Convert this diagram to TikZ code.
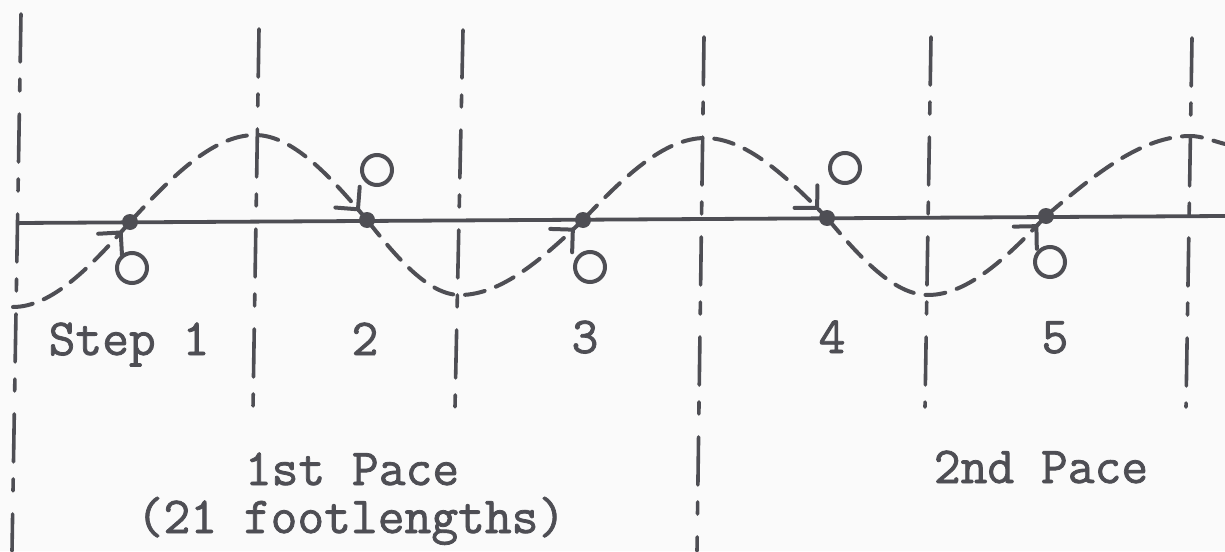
\documentclass[tikz,border=0pt]{standalone}
\usepackage{fontspec}
\usetikzlibrary{decorations.markings}
\newfontfamily\typew[FakeBold=1.5]{Latin Modern Mono}
\definecolor{ink}{RGB}{78,78,84}
\definecolor{paper}{RGB}{250,250,250}
\begin{document}
\begin{tikzpicture}[x=1pt,y=-1pt,
  inkline/.style={draw=ink, line width=3.8pt, line cap=round},
  guide/.style={inkline, line width=3.6pt, dash pattern=on 48pt off 17pt on 12pt off 23pt},
  wavebase/.style={inkline, line width=4pt, dash pattern=on 20pt off 12pt},
  wave/.style={wavebase, postaction={decorate},
    decoration={markings, mark=at position -14pt with {\draw[solid, draw=ink, line width=4pt, line cap=round, line join=round] (-16pt,16pt) -- (0pt,0pt) -- (-16pt,-16pt);}}},
  stepdot/.style={circle, fill=ink, inner sep=0pt, minimum size=16pt},
  footmark/.style={circle, draw=ink, line width=4pt, inner sep=0pt, minimum size=30pt},
  txt/.style={text=ink, font=\typew\fontsize{52}{52}\selectfont, anchor=base, inner sep=0pt}
]
\useasboundingbox (0,0) rectangle (1225,551);
\fill[paper] (0,0) rectangle (1225,551);

% vertical guide lines
\coordinate (At) at (21,14);   \coordinate (Ab) at (12,551);
\coordinate (Bt) at (259,29);  \coordinate (Bb) at (253,408);
\coordinate (Ct) at (463,30);  \coordinate (Cb) at (455,407);
\coordinate (Dt) at (704,37);  \coordinate (Db) at (697,551);
\coordinate (Et) at (931,37);  \coordinate (Eb) at (925,407);
\coordinate (Ft) at (1192,38); \coordinate (Fb) at (1186,407);
\draw[guide] (At) -- (Ab);
\draw[guide] (Bt) -- (Bb);
\draw[guide] (Ct) -- (Cb);
\draw[guide] (Dt) -- (Db);
\draw[guide] (Et) -- (Eb);
\draw[guide] (Ft) -- (Fb);

% baseline
\coordinate (h0) at (17,223);
\coordinate (h1) at (1225,216);
\draw[inkline, line cap=butt] (h0) -- (h1);

% footfall dots
\node[stepdot] (d1) at (130,222) {};
\node[stepdot] (d2) at (367,220) {};
\node[stepdot] (d3) at (583,220) {};
\node[stepdot] (d4) at (827,218) {};
\node[stepdot] (d5) at (1046,216) {};

% wave turning points
\coordinate (s0) at (13,307);
\coordinate (p1) at (255,135);
\coordinate (t1) at (460,295);
\coordinate (p2) at (705,138);
\coordinate (t2) at (928,295);
\coordinate (p3) at (1190,136);
\coordinate (e)  at (1225,144);

\draw[wave] (s0) .. controls +(39,0) and +(-39,44.5) .. (d1.center);
\draw[wave] (d1.center) .. controls +(41.7,-45.5) and +(-41.7,0) .. (p1)
                        .. controls +(37.3,0) and +(-37.3,-44.5) .. (d2.center);
\draw[wave] (d2.center) .. controls +(31,39.3) and +(-31,0) .. (t1)
                        .. controls +(41,0) and +(-41,39.3) .. (d3.center);
\draw[wave] (d3.center) .. controls +(40.7,-42.9) and +(-40.7,0) .. (p2)
                        .. controls +(40.7,0) and +(-40.7,-41.9) .. (d4.center);
\draw[wave] (d4.center) .. controls +(33.7,40.3) and +(-33.7,0) .. (t2)
                        .. controls +(39.3,0) and +(-39.3,41.9) .. (d5.center);
\draw[wavebase] (d5.center) .. controls +(48,-41.4) and +(-48,0) .. (p3)
                        .. controls +(12,0) and +(-12,-3) .. (e);

% foot circles
\node[footmark] (c1) at (132,268) {};
\node[footmark] (c2) at (377,170) {};
\node[footmark] (c3) at (590,267) {};
\node[footmark] (c4) at (845,168) {};
\node[footmark] (c5) at (1050,262) {};

% labels
\node[txt] (l1) at (129,355) {Step 1};
\node[txt] (l2) at (365,355) {2};
\node[txt] (l3) at (585,353) {3};
\node[txt] (l4) at (832,353) {4};
\node[txt] (l5) at (1055,353) {5};
\node[txt] (pace1) at (352,485) {1st Pace};
\node[txt] (len1) at (351,533) {(21 footlengths)};
\node[txt] (pace2) at (1041,483) {2nd Pace};
\end{tikzpicture}
\end{document}
